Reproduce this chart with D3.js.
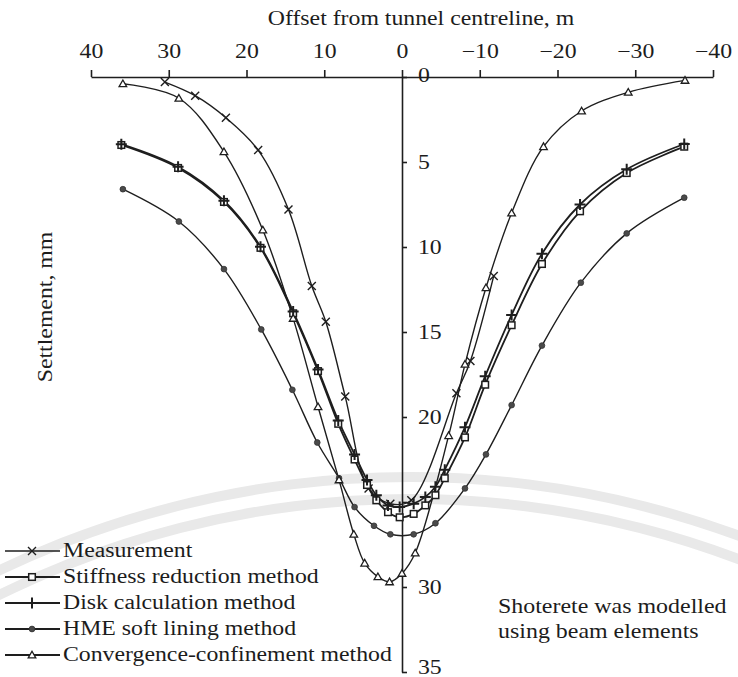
<!DOCTYPE html>
<html>
<head>
<meta charset="utf-8">
<script src="https://cdn.jsdelivr.net/npm/d3@7"></script>
<style>
  html, body { margin: 0; padding: 0; background: #fff; }
  svg { display: block; }
  text { font-family: "Liberation Serif", "Times New Roman", serif; fill: #1c1c1c; }
</style>
</head>
<body>
<svg id="chart" width="738" height="677"></svg>
<script>
// Surface settlement (mm) against offset from the tunnel centreline (m)
const xTicks = [40, 30, 20, 10, 0, -10, -20, -30, -40];
const yTicks = [0, 5, 10, 15, 20, 25, 30, 35];

const measOffset = [30.5, 26.6, 22.65, 18.5, 14.6, 11.6, 9.8, 7.3, 4.3, 1.5, -1.2, -7.0, -8.8, -11.8];
const measSettle = [0.3, 1.1, 2.4, 4.3, 7.8, 12.3, 14.4, 18.8, 24.2, 25.1, 24.9, 18.6, 16.7, 11.7];

const modelOffset = [36.1, 28.8, 22.9, 18.2, 14.0, 10.8, 8.2, 6.1, 4.5, 3.3, 1.8, 0.3, -1.5, -3.0, -4.3, -5.5, -8.1, -10.7, -14.1, -18.0, -22.9, -28.9, -36.3];
const stiffSettle = [4.0, 5.35, 7.35, 10.05, 13.9, 17.3, 20.4, 22.5, 24.0, 24.9, 25.6, 25.9, 25.7, 25.2, 24.6, 23.6, 21.2, 18.1, 14.6, 11.0, 7.9, 5.65, 4.1];
const diskSettle  = [3.95, 5.28, 7.28, 9.98, 13.8, 17.2, 20.2, 22.2, 23.7, 24.6, 25.2, 25.3, 25.1, 24.7, 24.1, 23.1, 20.6, 17.6, 14.0, 10.4, 7.5, 5.43, 3.94];

const hmeOffset = [35.9, 28.7, 22.9, 18.1, 14.1, 10.9, 8.1, 6.1, 3.6, 1.5, -1.5, -4.3, -8.1, -10.8, -14.1, -18.0, -23.0, -28.9, -36.3];
const hmeSettle = [6.6, 8.5, 11.3, 14.85, 18.4, 21.5, 23.6, 25.3, 26.4, 26.9, 26.9, 26.25, 24.2, 22.2, 19.3, 15.8, 12.1, 9.2, 7.1];

const ccOffset = [35.9, 28.7, 22.9, 17.9, 14.0, 10.8, 8.1, 6.2, 4.8, 3.1, 1.6, 0.0, -1.7, -6.0, -8.1, -10.8, -14.1, -18.2, -23.1, -29.1, -36.4];
const ccSettle = [0.4, 1.25, 4.4, 9.0, 14.2, 19.4, 23.7, 26.9, 28.6, 29.4, 29.7, 29.2, 28.0, 21.1, 16.9, 12.4, 8.0, 4.1, 2.0, 0.9, 0.2];

const seriesNames = [
  "Measurement",
  "Stiffness reduction method",
  "Disk calculation method",
  "HME soft lining method",
  "Convergence-confinement method"
];

const ink = "#1e1e1e";
const stretch = 1.16;   // the serif face is set slightly wide
const fontSize = 20.5;

const svg = d3.select("#chart");

const x = d3.scaleLinear().domain([40, -40]).range([91, 713]);
const y = d3.scaleLinear().domain([0, 35]).range([77, 672]);

function zip(xs, ys) { return xs.map((d, i) => [d, ys[i]]); }

const series = [
  { name: seriesNames[0], pts: zip(measOffset, measSettle), marker: "cross" },
  { name: seriesNames[1], pts: zip(modelOffset, stiffSettle), marker: "square" },
  { name: seriesNames[2], pts: zip(modelOffset, diskSettle), marker: "plus" },
  { name: seriesNames[3], pts: zip(hmeOffset, hmeSettle), marker: "dot" },
  { name: seriesNames[4], pts: zip(ccOffset, ccSettle), marker: "triangle" }
];

// ---- faint seal printed behind the figure ----
const seal = svg.append("g").attr("fill", "none").attr("stroke", "#e6e6e6");
[950, 928].forEach(r => {
  seal.append("path")
    .attr("d", d3.arc()({ innerRadius: r - 5, outerRadius: r + 5, startAngle: -0.5, endAngle: 0.5 }))
    .attr("transform", "translate(410,1427)")
    .attr("fill", "#e9e9e9")
    .attr("stroke", "none");
});

// ---- axes ----
const topAxis = d3.axisTop(x)
  .tickValues(xTicks)
  .tickSize(7)
  .tickSizeOuter(0)
  .tickPadding(12);

const gx = svg.append("g").attr("transform", `translate(0,${y(0)})`).call(topAxis);
gx.select(".domain").attr("stroke", ink).attr("stroke-width", 1.6);
gx.selectAll(".tick line").attr("stroke", ink).attr("stroke-width", 1.6);
gx.selectAll(".tick text")
  .attr("font-size", fontSize)
  .attr("font-family", null)
  .attr("fill", ink)
  .attr("transform", `scale(${stretch},1)`);

const yPad = 11, ySize = 5;
const rightAxis = d3.axisRight(y)
  .tickValues(yTicks)
  .tickSize(ySize)
  .tickSizeOuter(0)
  .tickPadding(yPad)
  .tickFormat(d => d === 25 ? "" : d);

const gy = svg.append("g").attr("transform", `translate(${x(0)},0)`).call(rightAxis);
gy.select(".domain").attr("stroke", ink).attr("stroke-width", 1.6);
gy.selectAll(".tick line").attr("stroke", ink).attr("stroke-width", 1.6);
gy.selectAll(".tick text")
  .attr("font-size", fontSize)
  .attr("font-family", null)
  .attr("fill", ink)
  .attr("x", (ySize + yPad) / stretch)
  .attr("transform", `scale(${stretch},1)`);
gy.selectAll(".tick").filter(d => d === 0).select("text").attr("dy", "0.22em");
gy.selectAll(".tick").filter(d => d === 35).select("text").attr("dy", "0.05em");

// ---- titles ----
function label(px, py, str, opts = {}) {
  const size = opts.size || fontSize;
  const k = opts.k || stretch;
  const rot = opts.rotate ? ` rotate(${opts.rotate})` : "";
  return svg.append("text")
    .attr("transform", `translate(${px},${py})${rot} scale(${k},1)`)
    .attr("text-anchor", opts.anchor || "start")
    .attr("font-size", size)
    .text(str);
}

label(421, 25, "Offset from tunnel centreline, m", { anchor: "middle" });
label(52, 307, "Settlement, mm", { anchor: "middle", rotate: -90 });
label(498, 613, "Shoterete was modelled", { size: 21, k: 1.14 });
label(498, 638, "using beam elements", { size: 21, k: 1.14 });

// ---- markers ----
function drawMarker(g, type, cx, cy) {
  switch (type) {
    case "cross": {
      const s = 4;
      g.append("path")
        .attr("d", `M${cx - s},${cy - s}L${cx + s},${cy + s}M${cx - s},${cy + s}L${cx + s},${cy - s}`)
        .attr("stroke", ink).attr("stroke-width", 1.4).attr("fill", "none");
      break;
    }
    case "square": {
      const s = 3.3;
      g.append("rect")
        .attr("x", cx - s).attr("y", cy - s).attr("width", 2 * s).attr("height", 2 * s)
        .attr("fill", "#fff").attr("stroke", ink).attr("stroke-width", 1.5);
      break;
    }
    case "plus": {
      const s = 5.5;
      g.append("path")
        .attr("d", `M${cx - s},${cy}L${cx + s},${cy}M${cx},${cy - s}L${cx},${cy + s}`)
        .attr("stroke", ink).attr("stroke-width", 2).attr("fill", "none");
      break;
    }
    case "dot": {
      g.append("path")
        .attr("d", d3.symbol(d3.symbolCircle, 26)())
        .attr("transform", `translate(${cx},${cy})`)
        .attr("fill", "#4a4a4a").attr("stroke", "#333").attr("stroke-width", 0.8);
      break;
    }
    case "triangle": {
      const s = 3.8;
      g.append("path")
        .attr("d", `M${cx},${cy - s}L${cx + s},${cy + s * 0.75}L${cx - s},${cy + s * 0.75}Z`)
        .attr("fill", "#fff").attr("stroke", ink).attr("stroke-width", 1.3);
      break;
    }
  }
}

// ---- curves ----
const line = d3.line()
  .x(d => x(d[0]))
  .y(d => y(d[1]))
  .curve(d3.curveCatmullRom.alpha(0.5));

const plot = svg.append("g");
series.forEach(s => {
  plot.append("path")
    .attr("d", line(s.pts))
    .attr("fill", "none")
    .attr("stroke", ink)
    .attr("stroke-width", s.marker === "plus" || s.marker === "square" ? 1.8 : 1.4);
});
series.forEach(s => {
  const g = plot.append("g");
  s.pts.forEach(p => drawMarker(g, s.marker, x(p[0]), y(p[1])));
});

// ---- legend ----
const legend = svg.append("g");
const legendTop = 557, legendStep = 26;
series.forEach((s, i) => {
  const by = legendTop + i * legendStep;
  const cy = by - 6;
  legend.append("line")
    .attr("x1", 5).attr("x2", 60).attr("y1", cy).attr("y2", cy)
    .attr("stroke", ink).attr("stroke-width", i === 0 ? 1.5 : 2.2);
  drawMarker(legend, s.marker, 32, cy);
  legend.append("text")
    .attr("transform", `translate(63,${by}) scale(${stretch},1)`)
    .attr("font-size", fontSize)
    .text(s.name);
});
</script>
</body>
</html>
